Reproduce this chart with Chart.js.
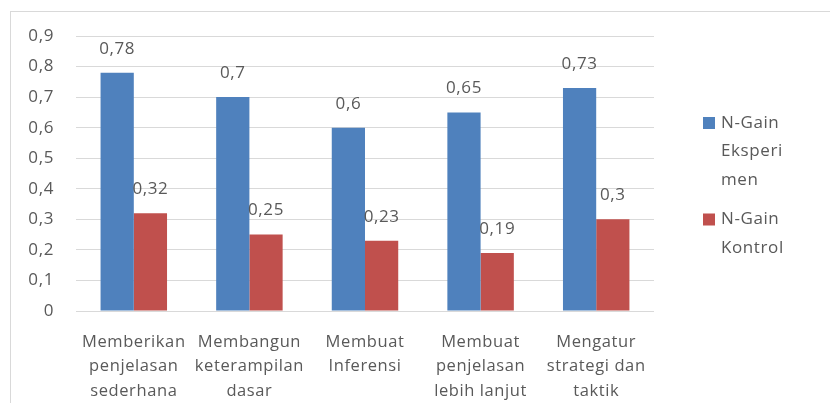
<!DOCTYPE html>
<html>
<head>
<meta charset="utf-8">
<script src="https://cdn.jsdelivr.net/npm/chart.js@4"></script>
<style>
  html, body { margin: 0; padding: 0; background: #fff; }
  #wrap { position: relative; width: 830px; height: 403px; overflow: hidden; }
  #frame { position: absolute; left: 10px; top: 11px; width: 840px; height: 420px; border: 1px solid #d9d9d9; box-sizing: border-box; pointer-events: none; }
  canvas { position: absolute; left: 0; top: 0; }
</style>
</head>
<body>
<div id="wrap">
  <canvas id="c" width="830" height="403"></canvas>
  <div id="frame"></div>
</div>
<script>
const categories = [
  ["Memberikan", "penjelasan", "sederhana"],
  ["Membangun", "keterampilan", "dasar"],
  ["Membuat", "Inferensi"],
  ["Membuat", "penjelasan", "lebih lanjut"],
  ["Mengatur", "strategi dan", "taktik"]
];
const seriesNames = ["N-Gain Eksperimen", "N-Gain Kontrol"];
const legendLines = [["N-Gain", "Eksperi", "men"], ["N-Gain", "Kontrol"]];
const eksperimen = [0.78, 0.7, 0.6, 0.65, 0.73];
const kontrol = [0.32, 0.25, 0.23, 0.19, 0.3];
const yTicks = [0, 0.1, 0.2, 0.3, 0.4, 0.5, 0.6, 0.7, 0.8, 0.9];
const colors = ["#4f81bd", "#c0504d"];

const fmt = v => String(v).replace('.', ',');
const TXT = '#595959';
const FONT = "'Open Sans', sans-serif";

const spacingPlugin = {
  id: 'spacing',
  beforeUpdate(chart) { chart.ctx.letterSpacing = '0.6px'; },
  beforeDraw(chart) { chart.ctx.letterSpacing = '0.6px'; }
};

const labelPlugin = {
  id: 'valueLabels',
  afterDatasetsDraw(chart) {
    const ctx = chart.ctx;
    ctx.save();
    ctx.letterSpacing = '0.6px';
    ctx.font = "17px " + FONT;
    ctx.fillStyle = TXT;
    ctx.textAlign = 'center';
    ctx.textBaseline = 'middle';
    chart.data.datasets.forEach((ds, di) => {
      chart.getDatasetMeta(di).data.forEach((bar, i) => {
        ctx.fillText(fmt(ds.data[i]), bar.x, bar.y - 24);
      });
    });
    ctx.restore();
  }
};

const legendPlugin = {
  id: 'sideLegend',
  afterDraw(chart) {
    const ctx = chart.ctx;
    ctx.save();
    ctx.letterSpacing = '0.6px';
    ctx.font = "17px " + FONT;
    ctx.textAlign = 'left';
    ctx.textBaseline = 'middle';
    const x0 = chart.chartArea.right + 49;
    let y = 123;
    const lh = 28.5;
    chart.data.datasets.forEach((ds, di) => {
      ctx.fillStyle = ds.backgroundColor;
      ctx.fillRect(x0, y - 6, 12, 12);
      ctx.fillStyle = TXT;
      legendLines[di].forEach((ln, k) => {
        ctx.fillText(ln, x0 + 18, y + k * lh);
      });
      y += legendLines[di].length * lh + 11;
    });
    ctx.restore();
  }
};

new Chart(document.getElementById('c'), {
  type: 'bar',
  data: {
    labels: categories,
    datasets: [
      { label: seriesNames[0], data: eksperimen, backgroundColor: colors[0], borderWidth: 0 },
      { label: seriesNames[1], data: kontrol, backgroundColor: colors[1], borderWidth: 0 }
    ]
  },
  options: {
    responsive: false,
    animation: false,
    devicePixelRatio: 1,
    layout: { padding: { left: 10, right: 176, top: 36, bottom: 0 } },
    datasets: { bar: { categoryPercentage: 0.575, barPercentage: 1 } },
    plugins: { legend: { display: false }, tooltip: { enabled: false } },
    scales: {
      x: {
        grid: { display: false },
        border: { display: false },
        ticks: { color: TXT, font: { family: FONT, size: 16.5, lineHeight: 1.48 }, padding: 11, maxRotation: 0, autoSkip: false },
        afterFit: s => { s.height = 92; }
      },
      y: {
        min: 0, max: 0.9,
        afterBuildTicks: s => { s.ticks = yTicks.map(v => ({ value: v })); },
        grid: { color: '#d9d9d9', lineWidth: 1, drawTicks: false },
        border: { display: false },
        ticks: { color: TXT, font: { family: FONT, size: 17 }, padding: 22, callback: v => fmt(Math.round(v * 10) / 10) },
        afterFit: s => { s.width = 66; }
      }
    }
  },
  plugins: [spacingPlugin, labelPlugin, legendPlugin]
});
</script>
</body>
</html>
